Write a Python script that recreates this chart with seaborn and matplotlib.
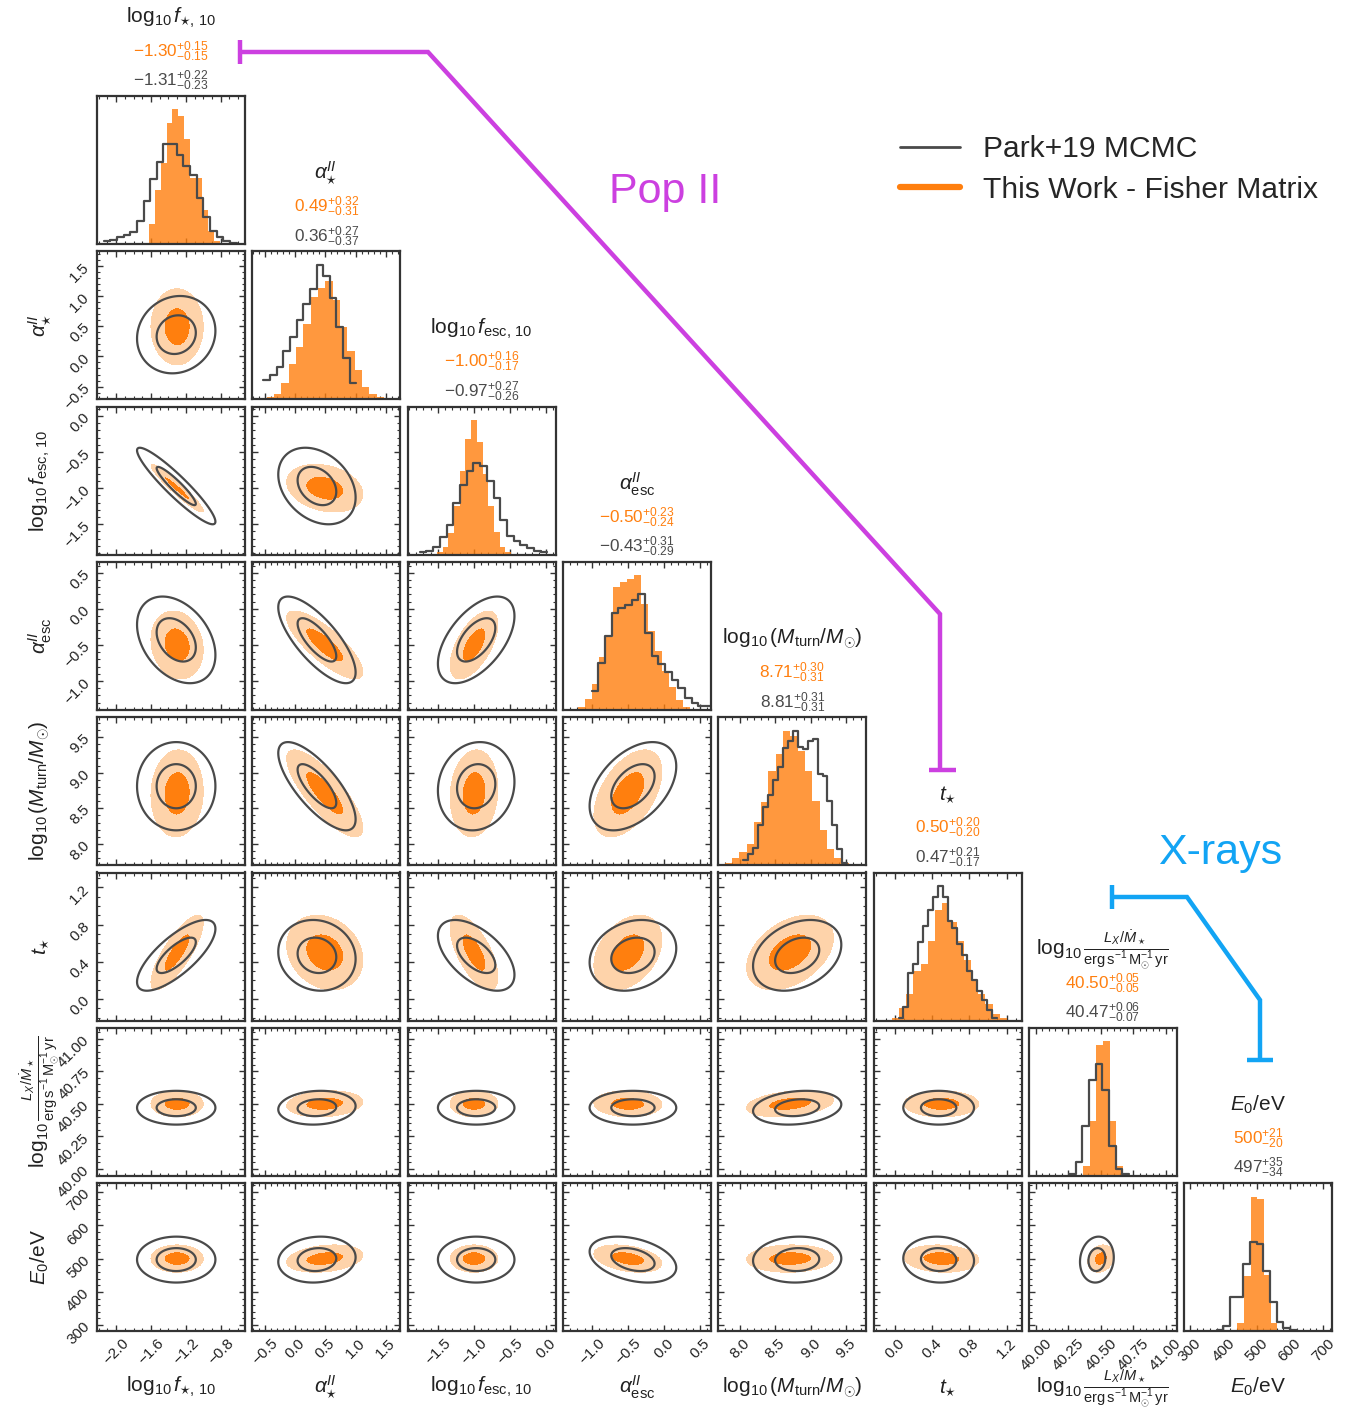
import numpy as np
import pandas as pd
import matplotlib
matplotlib.use("Agg")
import matplotlib.pyplot as plt
from matplotlib.lines import Line2D
from matplotlib.ticker import AutoMinorLocator, FixedLocator, NullLocator
import seaborn as sns

sns.set_theme(style="ticks")
plt.rcParams['font.family'] = ['Liberation Sans', 'DejaVu Sans']
plt.rcParams['mathtext.fontset'] = 'custom'
plt.rcParams['mathtext.rm'] = 'Liberation Sans'
plt.rcParams['mathtext.it'] = 'Liberation Sans:italic'
plt.rcParams['mathtext.bf'] = 'Liberation Sans:bold'
plt.rcParams['axes.unicode_minus'] = True

# ---- parameters ----
labels = [
    r'$\log_{10}f_{\star,\,10}$',
    r'$\alpha_{\star}^{II}$',
    r'$\log_{10}f_{\rm esc,\,10}$',
    r'$\alpha_{\rm esc}^{II}$',
    r'$\log_{10}(M_{\rm turn}/M_{\odot})$',
    r'$t_{\star}$',
    r'$\log_{10}\frac{L_X/\dot{M}_\star}{\rm erg\,s^{-1}\,M_{\odot}^{-1}\,yr}$',
    r'$E_0/{\rm eV}$',
]
ranges = [(-2.22, -0.52), (-0.71, 1.74), (-1.92, 0.13), (-1.40, 0.65),
          (7.70, 9.78), (-0.23, 1.36), (39.946, 41.085), (282, 727)]
ticks = [
    [-2.0, -1.6, -1.2, -0.8],
    [-0.5, 0.0, 0.5, 1.0, 1.5],
    [-1.5, -1.0, -0.5, 0.0],
    [-1.0, -0.5, 0.0, 0.5],
    [8.0, 8.5, 9.0, 9.5],
    [0.0, 0.4, 0.8, 1.2],
    [40.0, 40.25, 40.5, 40.75, 41.0],
    [300, 400, 500, 600, 700],
]
tick_fmt = ['{:.1f}'] * 6 + ['{:.2f}', '{:.0f}']
val_fmt = ['{:.2f}'] * 7 + ['{:.0f}']

# Fisher matrix (this work)
fisher_mean = [-1.30, 0.49, -1.00, -0.50, 8.71, 0.50, 40.50, 500]
fisher_hi = [0.15, 0.32, 0.16, 0.23, 0.30, 0.20, 0.05, 21]
fisher_lo = [0.15, 0.31, 0.17, 0.24, 0.31, 0.20, 0.05, 20]
fisher_corr = [
    [],
    [0.00],
    [-0.95, -0.25],
    [-0.15, -0.80, 0.60],
    [0.05, -0.80, 0.10, 0.50],
    [0.80, -0.20, -0.65, 0.35, 0.40],
    [0.00, 0.15, 0.00, -0.05, 0.30, 0.00],
    [0.00, 0.25, 0.00, -0.35, 0.05, -0.10, 0.20],
]

# Park+19 MCMC
mcmc_median = [-1.31, 0.36, -0.97, -0.43, 8.81, 0.47, 40.47, 497]
mcmc_hi = [0.22, 0.27, 0.27, 0.31, 0.31, 0.21, 0.06, 35]
mcmc_lo = [0.23, 0.37, 0.26, 0.29, 0.31, 0.17, 0.07, 34]
mcmc_corr = [
    [],
    [0.10],
    [-0.93, -0.30],
    [-0.35, -0.75, 0.55],
    [0.00, -0.75, 0.10, 0.45],
    [0.75, -0.10, -0.55, 0.20, 0.30],
    [0.00, 0.10, 0.00, 0.00, 0.20, 0.00],
    [0.00, 0.10, 0.00, -0.35, 0.05, -0.05, 0.10],
]

# 1D histograms (bin start, bin width, heights)
fisher_bin_start = [-1.628, -0.472, -1.5135, -1.188, 7.79, -0.032, 40.364, 442.4]
fisher_bin_width = [0.0688, 0.1214, 0.079, 0.097, 0.1027, 0.0772, 0.0513, 20.05]
fisher_counts = [
    [0.15, 0.40, 0.60, 0.90, 1.00, 0.95, 0.78, 0.49, 0.49, 0.25, 0.10, 0.02],
    [0.02, 0.04, 0.12, 0.26, 0.39, 0.56, 0.76, 0.83, 0.88, 0.74, 0.54, 0.36, 0.22, 0.09, 0.04, 0.02],
    [0.02, 0.06, 0.16, 0.36, 0.62, 0.86, 1.00, 0.84, 0.60, 0.36, 0.17, 0.06, 0.02],
    [0.02, 0.08, 0.19, 0.39, 0.54, 0.91, 0.95, 0.97, 1.00, 0.79, 0.59, 0.44, 0.29, 0.17, 0.07, 0.02],
    [0.02, 0.05, 0.10, 0.16, 0.32, 0.47, 0.70, 0.83, 1.00, 0.96, 0.85, 0.70, 0.48, 0.26, 0.12, 0.05, 0.02, 0.01],
    [0.02, 0.09, 0.20, 0.37, 0.42, 0.59, 0.82, 0.87, 0.73, 0.59, 0.45, 0.30, 0.20, 0.12, 0.05, 0.02],
    [0.07, 0.41, 0.97, 1.00, 0.41, 0.07, 0.01],
    [0.06, 0.41, 1.00, 0.98, 0.42, 0.06],
]
mcmc_bin_start = [-2.144, -0.527, -1.753, -1.003, 8.046, 0.039, 40.256, 380.2]
mcmc_bin_width = [0.0764, 0.110, 0.093, 0.0923, 0.07, 0.0527, 0.0513, 20.05]
mcmc_counts = [
    [0.02, 0.03, 0.05, 0.07, 0.09, 0.17, 0.32, 0.48, 0.61, 0.74, 0.74, 0.66, 0.58, 0.51, 0.34, 0.20, 0.10, 0.05, 0.02, 0.01],
    [0.14, 0.18, 0.24, 0.36, 0.46, 0.59, 0.71, 0.82, 1.00, 0.92, 0.75, 0.54, 0.31, 0.12],
    [0.02, 0.03, 0.06, 0.13, 0.22, 0.38, 0.52, 0.62, 0.68, 0.66, 0.55, 0.42, 0.26, 0.14, 0.10, 0.07, 0.05, 0.03, 0.02],
    [0.14, 0.35, 0.55, 0.72, 0.76, 0.78, 0.82, 0.86, 0.57, 0.40, 0.34, 0.28, 0.22, 0.16, 0.09, 0.05, 0.03, 0.03],
    [0.04, 0.08, 0.13, 0.30, 0.43, 0.52, 0.63, 0.73, 0.87, 0.92, 1.00, 0.88, 0.86, 0.92, 0.94, 0.68, 0.66, 0.48, 0.30, 0.12, 0.02],
    [0.02, 0.10, 0.35, 0.42, 0.58, 0.70, 0.82, 0.92, 1.00, 0.92, 0.74, 0.69, 0.57, 0.49, 0.37, 0.30, 0.22, 0.15, 0.08, 0.02],
    [0.01, 0.10, 0.37, 0.71, 0.83, 0.64, 0.22, 0.05, 0.01],
    [0.01, 0.04, 0.25, 0.25, 0.50, 0.66, 0.65, 0.45, 0.22, 0.07, 0.02, 0.01],
]

orange = '#ff7f0e'
orange_light = '#fed3aa'
grey = '#4a4a4a'
frame = '#333333'
popII_color = '#cc40e0'
xray_color = '#12a4f4'

W, H = 1349, 1419
fig = plt.figure(figsize=(W / 100, H / 100), dpi=100)
n = len(labels)
size = 148
step = 155.3
x0, y0 = 97, 96


def fmt_tick(v, f):
    return f.format(v).replace('-', '\u2212')


def cov2(sig, corr, i, j):
    c = corr[i][j]
    return np.array([[sig[j] ** 2, c * sig[i] * sig[j]],
                     [c * sig[i] * sig[j], sig[i] ** 2]])


def hist_frame(start, width, counts):
    edges = start + width * np.arange(len(counts) + 1)
    df = pd.DataFrame({'x': edges[:-1] + width / 2, 'w': counts})
    return df, edges.tolist()


fisher_sig = [(a + b) / 2 for a, b in zip(fisher_hi, fisher_lo)]
mcmc_sig = [(a + b) / 2 for a, b in zip(mcmc_hi, mcmc_lo)]

for i in range(n):
    for j in range(i + 1):
        left = x0 + j * step
        top = y0 + i * step
        ax = fig.add_axes([left / W, 1 - (top + size) / H, size / W, size / H])
        ax.set_facecolor('white')

        if i == j:
            df1, e1 = hist_frame(fisher_bin_start[i], fisher_bin_width[i], fisher_counts[i])
            df2, e2 = hist_frame(mcmc_bin_start[i], mcmc_bin_width[i], mcmc_counts[i])
            sns.histplot(data=df1, x='x', weights='w', bins=e1, color=orange, alpha=0.8,
                         linewidth=0, element='bars', ax=ax)
            sns.histplot(data=df2, x='x', weights='w', bins=e2, color=grey, fill=False,
                         element='step', linewidth=1.6, ax=ax)
            ax.set_ylim(0, 1.1 * max(max(fisher_counts[i]), max(mcmc_counts[i])))
            ax.yaxis.set_major_locator(NullLocator())
            ax.yaxis.set_minor_locator(NullLocator())
            # titles
            ax.text(0.5, 1.527, labels[i], transform=ax.transAxes, ha='center', va='center',
                    fontsize=15, color='#222222')
            f = val_fmt[i]
            ftxt = r'$%s^{+%s}_{-%s}$' % (f.format(fisher_mean[i]), f.format(fisher_hi[i]), f.format(fisher_lo[i]))
            mtxt = r'$%s^{+%s}_{-%s}$' % (f.format(mcmc_median[i]), f.format(mcmc_hi[i]), f.format(mcmc_lo[i]))
            ax.text(0.5, 1.30, ftxt, transform=ax.transAxes, ha='center', va='center',
                    fontsize=12.3, color=orange)
            ax.text(0.5, 1.10, mtxt, transform=ax.transAxes, ha='center', va='center',
                    fontsize=12.3, color=grey)
        else:
            xs = np.linspace(*ranges[j], 300)
            ys = np.linspace(*ranges[i], 300)
            X, Y = np.meshgrid(xs, ys)
            # Fisher ellipses (1 and 2 sigma)
            cf = np.linalg.inv(cov2(fisher_sig, fisher_corr, i, j))
            dx, dy = X - fisher_mean[j], Y - fisher_mean[i]
            d2f = cf[0, 0] * dx ** 2 + 2 * cf[0, 1] * dx * dy + cf[1, 1] * dy ** 2
            ax.contourf(X, Y, d2f, levels=[0, 1, 4], colors=[orange, orange_light])
            # MCMC contours
            cm = np.linalg.inv(cov2(mcmc_sig, mcmc_corr, i, j))
            dx, dy = X - mcmc_median[j], Y - mcmc_median[i]
            d2m = cm[0, 0] * dx ** 2 + 2 * cm[0, 1] * dx * dy + cm[1, 1] * dy ** 2
            ax.contour(X, Y, d2m, levels=[1, 4], colors=grey, linewidths=1.6)
            ax.set_ylim(*ranges[i])
            ax.yaxis.set_major_locator(FixedLocator(ticks[i]))
            ax.yaxis.set_minor_locator(AutoMinorLocator())
            if j == 0:
                ax.set_yticklabels([fmt_tick(v, tick_fmt[i]) for v in ticks[i]], rotation=45)
                ax.text(-0.385, 0.5, labels[i], transform=ax.transAxes, rotation=90,
                        ha='center', va='center', fontsize=15, color='#222222')
            else:
                ax.set_yticklabels([])

        ax.set_xlim(*ranges[j])
        ax.xaxis.set_major_locator(FixedLocator(ticks[j]))
        ax.xaxis.set_minor_locator(AutoMinorLocator())
        if i == n - 1:
            ax.set_xticklabels([fmt_tick(v, tick_fmt[j]) for v in ticks[j]], rotation=45)
            ax.text(0.5, -0.38, labels[j], transform=ax.transAxes,
                    ha='center', va='center', fontsize=15, color='#222222')
        else:
            ax.set_xticklabels([])
        ax.set_xlabel('')
        ax.set_ylabel('')
        ax.tick_params(which='both', direction='in', top=True, right=True,
                       colors=frame, labelcolor='#222222', labelsize=11)
        ax.tick_params(which='major', length=4.5, width=1.0)
        ax.tick_params(which='minor', length=2.5, width=0.8)
        for s in ax.spines.values():
            s.set_color(frame)
            s.set_linewidth(1.6)

# legend
handles = [Line2D([], [], color=grey, lw=2.0), Line2D([], [], color=orange, lw=4.5)]
fig.legend(handles, ['Park+19 MCMC', 'This Work - Fisher Matrix'], loc='upper left',
           bbox_to_anchor=(900 / W, 1 - 135 / H), frameon=False, fontsize=21.6,
           handlelength=2.0, handletextpad=0.78, labelspacing=0.42, borderpad=0,
           borderaxespad=0)


def bracket(xs, ys, color):
    fig.add_artist(Line2D([x / W for x in xs], [1 - y / H for y in ys],
                          transform=fig.transFigure, color=color, lw=3.2,
                          solid_joinstyle='miter', solid_capstyle='butt'))


bracket([240, 240], [40, 64], popII_color)
bracket([240, 428, 940, 940], [52, 52, 614, 770], popII_color)
bracket([929, 956], [770, 770], popII_color)
fig.text(665 / W, 1 - 192 / H, 'Pop II', fontsize=31, color=popII_color, ha='center', va='center')

bracket([1112, 1112], [885, 909], xray_color)
bracket([1112, 1187, 1260, 1260], [897, 897, 1000, 1060], xray_color)
bracket([1247, 1273], [1060, 1060], xray_color)
fig.text(1220 / W, 1 - 853 / H, 'X-rays', fontsize=31, color=xray_color, ha='center', va='center')

fig.savefig('out.png', dpi=100)
